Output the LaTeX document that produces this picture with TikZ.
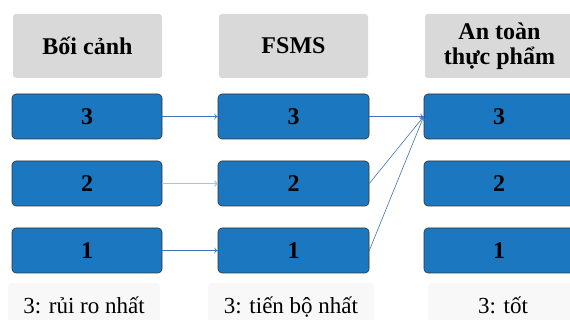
\documentclass[tikz,border=0pt]{standalone}
\usepackage{fontspec}
\setmainfont{Liberation Serif}
\usetikzlibrary{arrows.meta}
\definecolor{boxblue}{HTML}{1B78C0}
\definecolor{headgray}{HTML}{D9D9D9}
\definecolor{notegray}{HTML}{F8F8F8}
\definecolor{arrowblue}{HTML}{3E73B5}
\definecolor{arrowlight}{HTML}{A9C4E4}
\tikzset{
  headbox/.style={fill=headgray,rounded corners=3pt,minimum width=149pt,minimum height=64pt,
    align=center,font=\fontsize{24}{25}\selectfont\bfseries,inner sep=0pt},
  levelbox/.style={fill=boxblue,draw=black!80,line width=0.6pt,rounded corners=4pt,
    minimum height=45pt,font=\fontsize{24}{24}\selectfont\bfseries,inner sep=0pt},
  notebox/.style={fill=notegray,rounded corners=4pt,minimum height=46pt,
    font=\fontsize{23}{23}\selectfont,text height=19pt,text depth=5pt,inner sep=0pt},
  link/.style={arrowblue,line width=0.6pt,-{To[length=3.5pt,width=6pt]}}
}
\begin{document}
\begin{tikzpicture}[x=1pt,y=-1pt]
          \useasboundingbox (0,0) rectangle (570,320);
          \clip (0,0) rectangle (570,320);
          \fill[white] (0,0) rectangle (570,320);

          % column headers
          \node[headbox] (hctx) at (87.5,46) {Bối cảnh};
          \node[headbox] (hfsms) at (293.5,46) {FSMS};
          \node[headbox] (hsafe) at (499.5,46) {An toàn\\thực phẩm};

          % levels
          \node[levelbox,minimum width=150pt] (c3) at (87,116.5) {3};
          \node[levelbox,minimum width=150pt] (c2) at (87,183.5) {2};
          \node[levelbox,minimum width=150pt] (c1) at (87,250.5) {1};
          \node[levelbox,minimum width=151pt] (f3) at (293.5,116.5) {3};
          \node[levelbox,minimum width=151pt] (f2) at (293.5,183.5) {2};
          \node[levelbox,minimum width=151pt] (f1) at (293.5,250.5) {1};
          \node[levelbox,minimum width=150pt] (s3) at (499,116.5) {3};
          \node[levelbox,minimum width=150pt] (s2) at (499,183.5) {2};
          \node[levelbox,minimum width=150pt] (s1) at (499,250.5) {1};

          % bottom notes
          \node[notebox,minimum width=152pt] (nctx) at (84,306) {3: rủi ro nhất};
          \node[notebox,minimum width=166pt] (nfsms) at (291,306) {3: tiến bộ nhất};
          \node[notebox,minimum width=150pt] (nsafe) at (503,306) {3: tốt};

          % connectors
          \draw[link] (c3) -- (f3);
          \draw[link,arrowlight,line width=1.2pt] (c2) -- (f2);
          \draw[link] (c1) -- (f1);
          \draw[link] (f3.east) -- (s3.west);
          \draw[link] (f2.east) -- (s3.west);
          \draw[link] (f1.east) -- (s3.west);
\end{tikzpicture}
\end{document}
